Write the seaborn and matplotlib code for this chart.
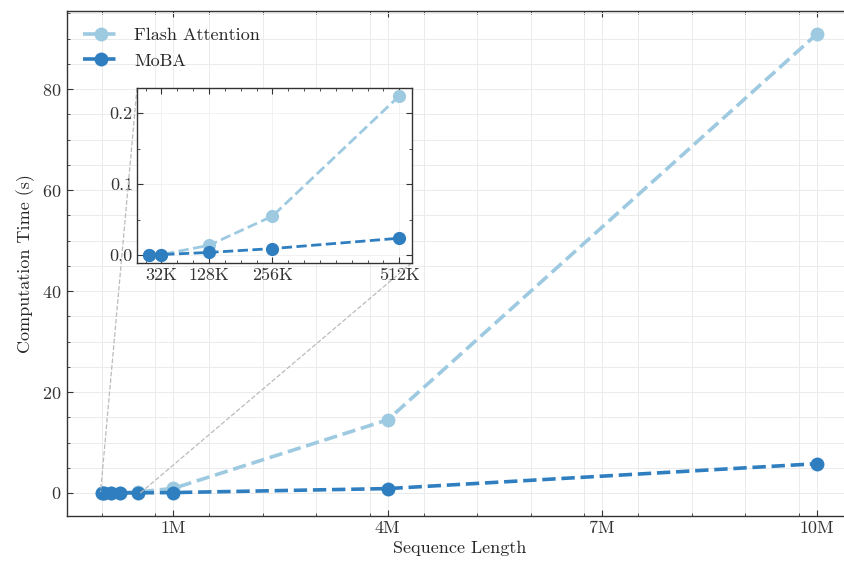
import numpy as np
import pandas as pd
import matplotlib
matplotlib.use("Agg")
import matplotlib.pyplot as plt
from matplotlib.ticker import FixedLocator, MultipleLocator, FuncFormatter
from mpl_toolkits.axes_grid1.inset_locator import mark_inset
import seaborn as sns

# Sequence lengths (tokens) and measured computation times (seconds)
seq_lens = [8e3, 32e3, 128e3, 256e3, 512e3, 1e6, 4e6, 10e6]
flash_time = [0.0003, 0.001, 0.014, 0.055, 0.224, 0.9, 14.5, 90.9]
moba_time = [0.0005, 0.001, 0.004, 0.0094, 0.024, 0.08, 0.87, 5.8]

methods = ["Flash Attention", "MoBA"]
colors = {"Flash Attention": "#9ecae1", "MoBA": "#2f7fc0"}

main_xticks = [1e6, 4e6, 7e6, 10e6]
main_xticklabels = ["1M", "4M", "7M", "10M"]
inset_xticks = [32e3, 128e3, 256e3, 512e3]
inset_xticklabels = ["32K", "128K", "256K", "512K"]

df = pd.DataFrame({
    "seq": seq_lens * 2,
    "time": flash_time + moba_time,
    "method": [methods[0]] * len(seq_lens) + [methods[1]] * len(seq_lens),
})
df_small = df[df["seq"] <= 512e3]

sns.set_theme(style="ticks")
plt.rcParams.update({
    "font.family": "serif",
    "font.serif": ["cmr10", "DejaVu Serif"],
    "mathtext.fontset": "cm",
    "axes.formatter.use_mathtext": True,
    "font.size": 13,
    "xtick.direction": "in",
    "ytick.direction": "in",
    "xtick.top": True,
    "ytick.right": True,
    "xtick.minor.visible": True,
    "ytick.minor.visible": True,
    "xtick.major.size": 4,
    "ytick.major.size": 4,
    "xtick.minor.size": 2.2,
    "ytick.minor.size": 2.2,
    "xtick.major.width": 0.8,
    "ytick.major.width": 0.8,
    "xtick.minor.width": 0.6,
    "ytick.minor.width": 0.6,
    "axes.edgecolor": "#333333",
    "axes.linewidth": 1.0,
    "xtick.color": "#333333",
    "ytick.color": "#333333",
    "xtick.labelsize": 13,
    "ytick.labelsize": 13,
    "axes.labelsize": 13,
})

fig = plt.figure(figsize=(8.44, 5.62), dpi=100)
ax = fig.add_axes([0.079, 0.082, 0.931, 0.898])

for m in methods:
    sub = df[df["method"] == m]
    sns.lineplot(data=sub, x="seq", y="time", ax=ax, color=colors[m],
                 marker="o", markersize=10, markeredgewidth=0,
                 linestyle="--", linewidth=2.6, label=m, zorder=3)

ax.xaxis.set_major_locator(FixedLocator(main_xticks))
ax.set_xticklabels(main_xticklabels)
ax.xaxis.set_minor_locator(MultipleLocator(0.75e6))
ax.yaxis.set_major_locator(MultipleLocator(20))
ax.yaxis.set_minor_locator(MultipleLocator(5))
ax.grid(True, which="both", color="#ebebeb", linewidth=0.7)
ax.set_axisbelow(True)
ax.set_xlabel("Sequence Length", labelpad=3)
ax.set_ylabel("Computation Time (s)", labelpad=5)
ax.legend(loc="upper left", frameon=False, fontsize=13, handlelength=2.0,
          handletextpad=0.85, borderaxespad=0.5, labelspacing=0.55)

# Zoomed view of the short sequences
axin = fig.add_axes([0.1623, 0.532, 0.3255, 0.3114])
for m in methods:
    sub = df_small[df_small["method"] == m]
    sns.lineplot(data=sub, x="seq", y="time", ax=axin, color=colors[m],
                 marker="o", markersize=9.5, markeredgewidth=0,
                 linestyle="--", linewidth=2.0, legend=False, zorder=3)
axin.xaxis.set_major_locator(FixedLocator(inset_xticks))
axin.set_xticklabels(inset_xticklabels)
axin.xaxis.set_minor_locator(MultipleLocator(32e3))
axin.yaxis.set_major_locator(MultipleLocator(0.1))
axin.yaxis.set_minor_locator(MultipleLocator(0.05))
axin.yaxis.set_major_formatter(FuncFormatter(lambda v, p: f"{v:.1f}"))
axin.grid(True, which="major", color="#f0f0f0", linewidth=0.6)
axin.set_axisbelow(True)
axin.set_xlabel("")
axin.set_ylabel("")
axin.tick_params(labelsize=13, pad=3)

mark_inset(ax, axin, loc1=2, loc2=4, fc="none", ec="#bbbbbb",
           ls="--", lw=0.9)

fig.savefig("out.png", dpi=100)
